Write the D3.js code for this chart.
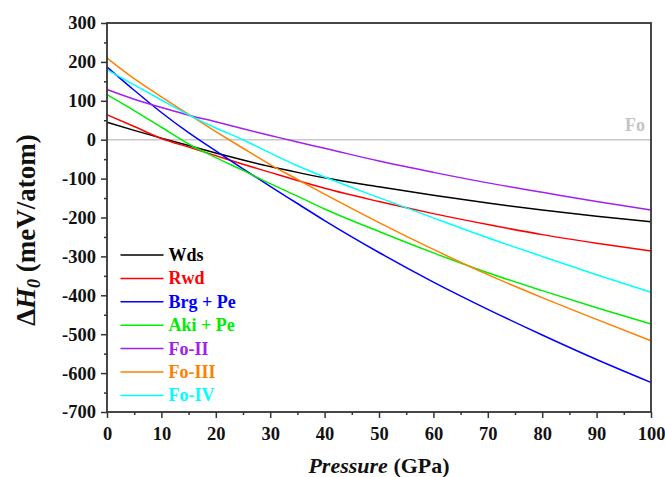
<!DOCTYPE html>
<html>
<head>
<meta charset="utf-8">
<script src="https://cdn.jsdelivr.net/npm/d3@7"></script>
<style>
  html, body { margin: 0; padding: 0; background: #fff; }
  svg { display: block; }
</style>
</head>
<body>
<svg id="chart" width="665" height="477"></svg>
<script>
// ---- data ----
const pressure = [0, 5, 10, 15, 20, 25, 30, 35, 40, 50, 60, 70, 80, 90, 100];
const seriesNames = ["Wds", "Rwd", "Brg + Pe", "Aki + Pe", "Fo-II", "Fo-III", "Fo-IV"];
const wds   = [45, 24, 4, -15, -34, -52, -69, -84, -98, -121, -143, -163, -181, -197, -211];
const rwd   = [64, 34, 3, -19, -41, -63, -84, -105, -125, -159, -190, -218, -244, -266, -286];
const brgPe = [187, 127, 70, 18, -29, -75, -120, -164, -208, -290, -366, -436, -502, -565, -624];
const akiPe = [116, 75, 32, -11, -46, -79, -113, -145, -178, -236, -291, -342, -388, -432, -474];
const foII  = [129, 104, 83, 63, 46, 28, 11, -6, -22, -55, -84, -111, -135, -159, -181];
const foIII = [210, 157, 110, 65, 21, -22, -64, -102, -140, -213, -282, -347, -406, -462, -517];
const foIV  = [180, 141, 102, 64, 30, 0, -34, -67, -96, -149, -201, -252, -300, -347, -392];
const seriesValues = [wds, rwd, brgPe, akiPe, foII, foIII, foIV];
const seriesColors = ["#000000", "#ff0000", "#0000ff", "#00ee00", "#a020f0", "#ff8000", "#00ffff"];
const xTicks = [0, 10, 20, 30, 40, 50, 60, 70, 80, 90, 100];
const yTicks = [300, 200, 100, 0, -100, -200, -300, -400, -500, -600, -700];
const refLabel = "Fo";

// ---- layout ----
const FONT = "'Liberation Serif', 'Times New Roman', Times, serif";
const svg = d3.select("#chart");
const L = 107, R = 651, T = 23, B = 412;
const x = d3.scaleLinear().domain([0, 100]).range([L, R]);
const y = d3.scaleLinear().domain([-700, 300]).range([B, T]);
const axisColor = "#333333";

function styleText(sel) {
  return sel.style("font-family", FONT).style("font-weight", "bold");
}

// reference zero line
svg.append("line")
  .attr("x1", x(0)).attr("x2", x(100))
  .attr("y1", y(0)).attr("y2", y(0))
  .attr("stroke", "#c8c8c8").attr("stroke-width", 1.6);
styleText(svg.append("text")
  .attr("x", x(100) - 6).attr("y", y(0) - 9)
  .attr("text-anchor", "end")
  .attr("fill", "#c4c4c4")
  .style("font-size", "18px")
  .text(refLabel));

// curves
const line = d3.line()
  .x(d => x(d[0])).y(d => y(d[1]))
  .curve(d3.curveMonotoneX);
seriesValues.forEach((vals, i) => {
  svg.append("path")
    .datum(pressure.map((p, j) => [p, vals[j]]))
    .attr("fill", "none")
    .attr("stroke", seriesColors[i])
    .attr("stroke-width", 1.5)
    .attr("d", line);
});

// axes
const xMinor = d3.range(5, 100, 10);
const yMinor = d3.range(-650, 300, 100);
const fmt = d => String(d);

const gx = svg.append("g").attr("transform", `translate(0,${B})`)
  .call(d3.axisBottom(x).tickValues(xTicks).tickSize(6).tickPadding(9).tickFormat(fmt));
const gxm = svg.append("g").attr("transform", `translate(0,${B})`)
  .call(d3.axisBottom(x).tickValues(xMinor).tickSize(3).tickFormat(""));
const gy = svg.append("g").attr("transform", `translate(${L},0)`)
  .call(d3.axisLeft(y).tickValues(yTicks).tickSize(6).tickPadding(5).tickFormat(fmt));
const gym = svg.append("g").attr("transform", `translate(${L},0)`)
  .call(d3.axisLeft(y).tickValues(yMinor).tickSize(3).tickFormat(""));

[gx, gxm, gy, gym].forEach(g => {
  g.attr("font-family", null).attr("font-size", null);
  g.select(".domain").remove();
  g.selectAll(".tick line").attr("stroke", axisColor).attr("stroke-width", 1.5);
  styleText(g.selectAll(".tick text"))
    .attr("fill", "#111")
    .style("font-size", "18.5px");
});

// frame
svg.append("rect")
  .attr("x", L).attr("y", T)
  .attr("width", R - L).attr("height", B - T)
  .attr("fill", "none")
  .attr("stroke", axisColor).attr("stroke-width", 1.8);

// legend
const legX = 120.5, legY = 255, legStep = 23.4;
seriesNames.forEach((name, i) => {
  const yy = legY + i * legStep;
  svg.append("line")
    .attr("x1", legX).attr("x2", legX + 43)
    .attr("y1", yy).attr("y2", yy)
    .attr("stroke", seriesColors[i]).attr("stroke-width", 1.5);
  styleText(svg.append("text")
    .attr("x", legX + 48).attr("y", yy + 6)
    .attr("fill", seriesColors[i])
    .style("font-size", "18px")
    .text(name));
});

// axis titles
const xt = styleText(svg.append("text")
  .attr("x", (L + R) / 2).attr("y", 473)
  .attr("text-anchor", "middle")
  .style("font-size", "22px")
  .attr("fill", "#111"));
xt.append("tspan").style("font-style", "italic").text("Pressure");
xt.append("tspan").text(" (GPa)");

const yt = styleText(svg.append("text")
  .attr("transform", `translate(35,230) rotate(-90)`)
  .attr("text-anchor", "middle")
  .style("font-size", "27px")
  .attr("fill", "#111"));
yt.append("tspan").text("Δ");
yt.append("tspan").style("font-style", "italic").text("H");
yt.append("tspan").style("font-style", "italic").style("font-size", "18px").attr("dy", 5).text("0");
yt.append("tspan").attr("dy", -5).text(" (meV/atom)");
</script>
</body>
</html>
